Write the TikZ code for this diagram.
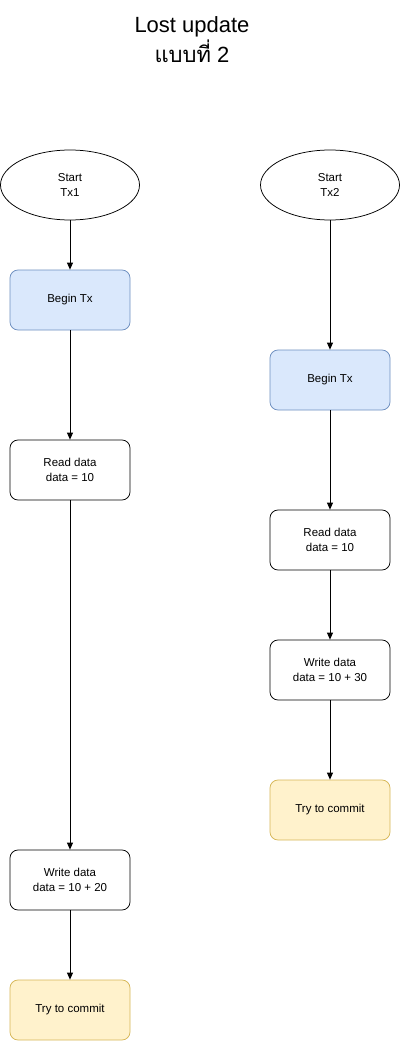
\documentclass[tikz,border=0pt]{standalone}
\usepackage{fontspec}
\setmainfont{Liberation Sans}
\newfontfamily\thaifont[Script=Thai]{Loma}
\usetikzlibrary{shapes.geometric,arrows.meta}
\definecolor{bluefill}{HTML}{DAE8FC}
\definecolor{blueline}{HTML}{6C8EBF}
\definecolor{yelfill}{HTML}{FFF2CC}
\definecolor{yelline}{HTML}{D6B656}
\tikzset{
  x=1pt, y=-1pt,
  box/.style={draw=black, rounded corners=8pt, minimum width=120pt, minimum height=60pt, align=center, font=\fontsize{11.5}{14.5}\selectfont, line width=0.75pt, inner sep=0pt},
  bluebox/.style={box, fill=bluefill, draw=blueline},
  yelbox/.style={box, fill=yelfill, draw=yelline},
  startnode/.style={draw=black, ellipse, minimum width=139pt, minimum height=70pt, align=center, font=\fontsize{11.5}{14.5}\selectfont, line width=0.75pt, inner sep=0pt},
  conn/.style={draw=black, line width=0.75pt, -{Triangle[length=7pt,width=6pt]}}
}
\begin{document}
\begin{tikzpicture}
\useasboundingbox (0,0) rectangle (401,1041);
\node[align=center, font=\fontsize{22}{30}\selectfont] (title) at (192,40) {Lost update\\{\thaifont แบบที่} 2};

\node[startnode] (s1) at (70,185) {Start\\Tx1};
\node[bluebox] (b1) at (70,300) {Begin Tx};
\node[box] (r1) at (70,470) {Read data\\data = 10};
\node[box] (w1) at (70,880) {Write data\\data = 10 + 20};
\node[yelbox] (c1) at (70,1010) {Try to commit};

\node[startnode] (s2) at (330,185) {Start\\Tx2};
\node[bluebox] (b2) at (330,380) {Begin Tx};
\node[box] (r2) at (330,540) {Read data\\data = 10};
\node[box] (w2) at (330,670) {Write data\\data = 10 + 30};
\node[yelbox] (c2) at (330,810) {Try to commit};

\draw[conn] (s1) -- (b1);
\draw[conn] (b1) -- (r1);
\draw[conn] (r1) -- (w1);
\draw[conn] (w1) -- (c1);
\draw[conn] (s2) -- (b2);
\draw[conn] (b2) -- (r2);
\draw[conn] (r2) -- (w2);
\draw[conn] (w2) -- (c2);
\end{tikzpicture}
\end{document}
